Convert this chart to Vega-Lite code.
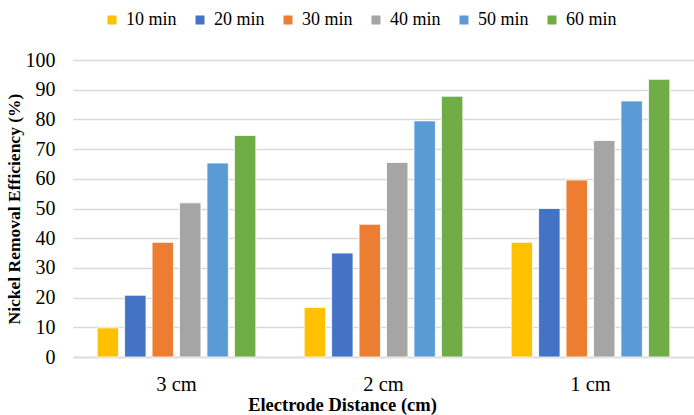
{
  "$schema": "https://vega.github.io/schema/vega-lite/v6.json",
  "autosize": "none",
  "width": 621,
  "height": 297,
  "padding": {"left": 73, "top": 60, "right": 0, "bottom": 58},
  "background": "white",
  "config": {
    "font": "Liberation Serif",
    "view": {"stroke": null},
    "axisY": {"labelFont": "Liberation Serif", "labelFontSize": 20},
    "legend": {"labelFont": "Liberation Serif", "labelFontSize": 18}
  },
  "data": {
    "values": [
      {"distance": "3 cm", "time": "10 min", "value": 9.8},
      {"distance": "3 cm", "time": "20 min", "value": 20.8},
      {"distance": "3 cm", "time": "30 min", "value": 38.6},
      {"distance": "3 cm", "time": "40 min", "value": 51.9},
      {"distance": "3 cm", "time": "50 min", "value": 65.3},
      {"distance": "3 cm", "time": "60 min", "value": 74.6},
      {"distance": "2 cm", "time": "10 min", "value": 16.7},
      {"distance": "2 cm", "time": "20 min", "value": 35.0},
      {"distance": "2 cm", "time": "30 min", "value": 44.7},
      {"distance": "2 cm", "time": "40 min", "value": 65.5},
      {"distance": "2 cm", "time": "50 min", "value": 79.5},
      {"distance": "2 cm", "time": "60 min", "value": 87.8},
      {"distance": "1 cm", "time": "10 min", "value": 38.6},
      {"distance": "1 cm", "time": "20 min", "value": 50.0},
      {"distance": "1 cm", "time": "30 min", "value": 59.6},
      {"distance": "1 cm", "time": "40 min", "value": 72.9},
      {"distance": "1 cm", "time": "50 min", "value": 86.2},
      {"distance": "1 cm", "time": "60 min", "value": 93.5}
    ]
  },
  "mark": {"type": "bar", "stroke": "white", "strokeWidth": 0.8},
  "encoding": {
    "x": {
      "field": "distance", "type": "nominal", "sort": ["3 cm", "2 cm", "1 cm"],
      "scale": {"paddingInner": 0, "paddingOuter": 0},
      "axis": {
        "title": "Electrode Distance (cm)", "titleFont": "Liberation Serif", "titleColor": "#000",
        "titleFontSize": 18.5, "titleFontWeight": "bold",
        "titleX": 269, "titlePadding": 1,
        "labelAngle": 0, "labelFont": "Liberation Serif", "labelColor": "#000", "labelFontSize": 20.5, "labelPadding": 17,
        "ticks": false, "domain": true, "domainColor": "#D9D9D9", "domainWidth": 1.5, "grid": false
      }
    },
    "xOffset": {
      "field": "time", "type": "nominal",
      "scale": {"paddingInner": 0.22, "paddingOuter": 0.88}
    },
    "y": {
      "field": "value", "type": "quantitative",
      "scale": {"domain": [0, 100], "nice": false},
      "axis": {
        "title": "Nickel Removal Efficiency (%)", "titleFont": "Liberation Serif", "titleColor": "#000",
        "titleFontSize": 17.5, "titleFontWeight": "bold",
        "titlePadding": 2,
        "values": [0, 10, 20, 30, 40, 50, 60, 70, 80, 90, 100],
        "labelColor": "#000", "labelPadding": 18,
        "ticks": false, "domain": false,
        "grid": true, "gridColor": "#D9D9D9", "gridWidth": 1.5
      }
    },
    "color": {
      "field": "time", "type": "nominal",
      "scale": {
        "domain": ["10 min", "20 min", "30 min", "40 min", "50 min", "60 min"],
        "range": ["#FFC000", "#4472C4", "#ED7D31", "#A5A5A5", "#5B9BD5", "#70AD47"]
      },
      "legend": {
        "title": null, "orient": "none", "legendX": 30, "legendY": -49,
        "direction": "horizontal", "symbolType": "square", "symbolSize": 81,
        "symbolStrokeWidth": 0, "labelColor": "#000",
        "columnPadding": 14, "labelOffset": 5, "labelLimit": 0
      }
    }
  }
}
